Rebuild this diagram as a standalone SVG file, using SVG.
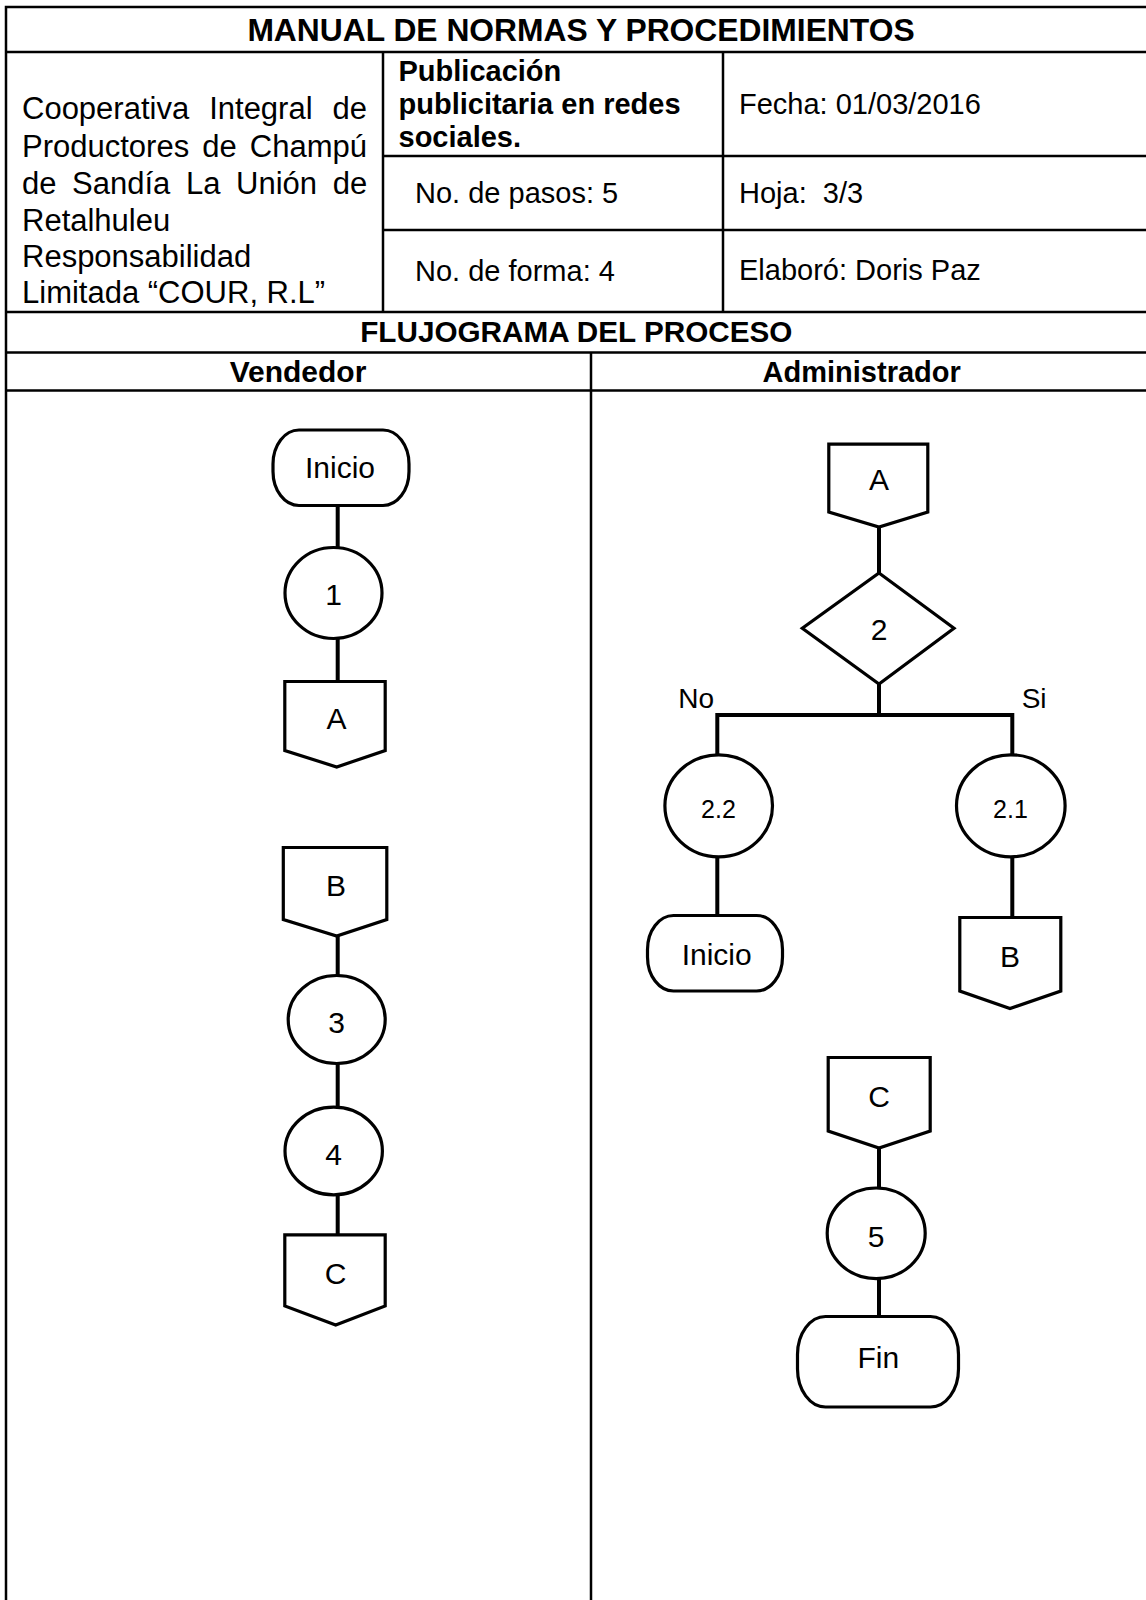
<svg xmlns="http://www.w3.org/2000/svg" width="1146" height="1600" viewBox="0 0 1146 1600">
<style>
.t{font-family:"Liberation Sans",Arial,sans-serif;fill:#000}
.b{font-weight:bold}
.grid{stroke:#000;stroke-width:2.5;fill:none}
.shape{fill:#fff;stroke:#000;stroke-width:3.2}
.conn{stroke:#000;stroke-width:4;fill:none}
.c{text-anchor:middle}
</style>
<rect x="0" y="0" width="1146" height="1600" fill="#fff"/>
<g id="table">
<path class="grid" d="M1150 7 H6 V1605"/>
<path class="grid" d="M6 52 H1150 M383 52 V312 M723 52 V312 M383 156 H1150 M383 230 H1150 M6 312 H1150 M6 352.5 H1150 M6 390.5 H1150 M591 352.5 V1605"/>
</g>
<g id="header-text">
<text class="t b c" x="581" y="40.5" font-size="31.8">MANUAL DE NORMAS Y PROCEDIMIENTOS</text>
<text class="t" font-size="31" x="22" y="119.3" word-spacing="11.4">Cooperativa Integral de</text>
<text class="t" font-size="31" x="22" y="156.7" word-spacing="4.5">Productores de Champú</text>
<text class="t" font-size="31" x="22" y="194.3" word-spacing="7">de Sandía La Unión de</text>
<text class="t" font-size="31" x="22" y="230.7">Retalhuleu</text>
<text class="t" font-size="31" x="22" y="266.7">Responsabilidad</text>
<text class="t" font-size="31" x="22" y="303.3">Limitada “COUR, R.L”</text>
<text class="t b" font-size="29" x="398.5" y="81">Publicación</text>
<text class="t b" font-size="29" x="398.5" y="113.5">publicitaria en redes</text>
<text class="t b" font-size="29" x="398.5" y="146.5">sociales.</text>
<text class="t" font-size="29" x="415" y="203.3">No. de pasos: 5</text>
<text class="t" font-size="29" x="415" y="281">No. de forma: 4</text>
<text class="t" font-size="29" x="739" y="114.3">Fecha: 01/03/2016</text>
<text class="t" font-size="29" x="739" y="202.7" style="white-space:pre">Hoja:  3/3</text>
<text class="t" font-size="29" x="739" y="280">Elaboró: Doris Paz</text>
<text class="t b c" font-size="29.7" x="576.3" y="341.7">FLUJOGRAMA DEL PROCESO</text>
<text class="t b c" font-size="30" x="298" y="381.7">Vendedor</text>
<text class="t b c" font-size="29" x="861.7" y="381.7">Administrador</text>
</g>
<g id="connectors">
<path class="conn" d="M337.7 505 V547 M337.7 639 V682 M337.7 936 V976 M337.7 1063 V1108 M337.7 1195 V1235"/>
<path class="conn" d="M879 527 V574 M879 683 V715 M717.3 715 H1012.3 M717.3 713 V755 M1012.3 713 V755 M717.3 857 V916 M1012.3 857 V918 M879 1148 V1188 M879 1279 V1317"/>
</g>
<g id="n-inicio1"><rect class="shape" x="273" y="430" width="136" height="75.5" rx="26" ry="34"/><text class="t c" font-size="30" x="340" y="478.3">Inicio</text></g>
<g id="n-1"><ellipse class="shape" cx="333.5" cy="593" rx="48.5" ry="45.5"/><text class="t c" font-size="30" x="333.5" y="605">1</text></g>
<g id="n-A1"><path class="shape" d="M284.8 681.5 H385.2 V750.5 L336.7 767 L284.8 750.5 Z"/><text class="t c" font-size="30" x="336.5" y="729.3">A</text></g>
<g id="n-B1"><path class="shape" d="M283.3 847.5 H386.8 V919.5 L336.7 936 L283.3 919.5 Z"/><text class="t c" font-size="30" x="336" y="896">B</text></g>
<g id="n-3"><ellipse class="shape" cx="336.7" cy="1019.5" rx="48.5" ry="44"/><text class="t c" font-size="30" x="336.7" y="1032.7">3</text></g>
<g id="n-4"><ellipse class="shape" cx="333.7" cy="1151" rx="48.7" ry="43.8"/><text class="t c" font-size="30" x="333.7" y="1165">4</text></g>
<g id="n-C1"><path class="shape" d="M284.8 1234.8 H385.2 V1306 L335.7 1325 L284.8 1306 Z"/><text class="t c" font-size="30" x="335.7" y="1284.3">C</text></g>
<g id="n-A2"><path class="shape" d="M828.8 444.2 H927.8 V512 L879 527 L828.8 512 Z"/><text class="t c" font-size="30" x="879" y="490">A</text></g>
<g id="n-2"><path class="shape" d="M879 573 L954 628.3 L879 684 L802.3 628.3 Z"/><text class="t c" font-size="30" x="879" y="640">2</text></g>
<g id="labels">
<text class="t" font-size="28" x="678.3" y="707.7">No</text>
<text class="t" font-size="28" x="1021.7" y="707.7">Si</text>
</g>
<g id="n-2-2"><ellipse class="shape" cx="718.7" cy="805.8" rx="53.8" ry="51"/><text class="t c" font-size="25" x="718.5" y="818.3">2.2</text></g>
<g id="n-2-1"><ellipse class="shape" cx="1010.8" cy="805.8" rx="54.3" ry="51"/><text class="t c" font-size="25" x="1010.5" y="818.3">2.1</text></g>
<g id="n-inicio2"><rect class="shape" x="647.5" y="915.5" width="135" height="75.5" rx="26" ry="34"/><text class="t c" font-size="30" x="716.7" y="965">Inicio</text></g>
<g id="n-B2"><path class="shape" d="M959.8 917.5 H1060.8 V991 L1010 1008.5 L959.8 991 Z"/><text class="t c" font-size="30" x="1010" y="966.7">B</text></g>
<g id="n-C2"><path class="shape" d="M828.2 1057.5 H930.2 V1131 L879 1148 L828.2 1131 Z"/><text class="t c" font-size="30" x="879" y="1106.7">C</text></g>
<g id="n-5"><ellipse class="shape" cx="876.2" cy="1233.3" rx="49" ry="45.3"/><text class="t c" font-size="30" x="876.2" y="1246.7">5</text></g>
<g id="n-fin"><rect class="shape" x="797.5" y="1316.5" width="161" height="90.5" rx="28" ry="38"/><text class="t c" font-size="30" x="878.3" y="1368.3">Fin</text></g>
</svg>
